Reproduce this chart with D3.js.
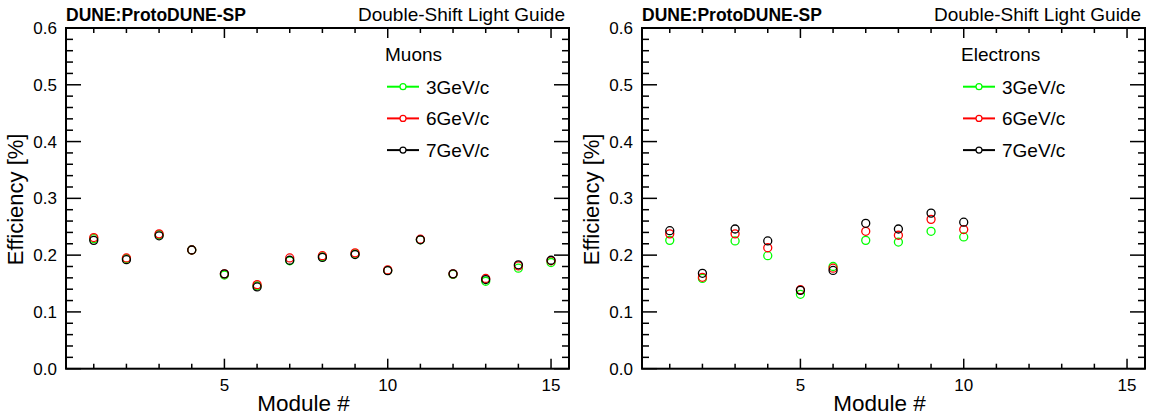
<!DOCTYPE html>
<html>
<head>
<meta charset="utf-8">
<script src="https://cdn.jsdelivr.net/npm/d3@7"></script>
<style>
body { margin: 0; background: #fff; }
text { font-family: "Liberation Sans", Arial, Helvetica, sans-serif; fill: #000; }
</style>
</head>
<body>
<svg id="chart"></svg>
<script>
var width = 1150;
var height = 416;

// Data: efficiency per module
var muonModules = [1, 2, 3, 4, 5, 6, 7, 8, 9, 10, 11, 12, 13, 14, 15];
var muon3 = [0.229, 0.194, 0.236, 0.209, 0.165, 0.146, 0.190, 0.197, 0.202, 0.173, 0.227, 0.166, 0.154, 0.177, 0.187];
var muon6 = [0.231, 0.195, 0.2375, 0.209, 0.167, 0.148, 0.195, 0.199, 0.204, 0.174, 0.228, 0.167, 0.159, 0.181, 0.190];
var muon7 = [0.226, 0.192, 0.234, 0.209, 0.167, 0.144, 0.191, 0.196, 0.201, 0.1726, 0.227, 0.167, 0.157, 0.183, 0.191];

var electronModules = [1, 2, 3, 4, 5, 6, 7, 8, 9, 10];
var electron3 = [0.226, 0.159, 0.225, 0.199, 0.131, 0.180, 0.226, 0.223, 0.242, 0.232];
var electron6 = [0.2375, 0.161, 0.2375, 0.213, 0.139, 0.177, 0.242, 0.235, 0.263, 0.245];
var electron7 = [0.243, 0.168, 0.246, 0.225, 0.138, 0.173, 0.256, 0.246, 0.274, 0.258];

var momenta = ["3GeV/c", "6GeV/c", "7GeV/c"];
var colors = ["#00ff00", "#ff0000", "#000000"];
var yTicks = [0.0, 0.1, 0.2, 0.3, 0.4, 0.5, 0.6];
var xTicks = [5, 10, 15];

var svg = d3.select("#chart")
    .attr("width", width)
    .attr("height", height);

var panels = [
  { left: 66, label: "Muons", modules: muonModules, series: [muon3, muon6, muon7] },
  { left: 642, label: "Electrons", modules: electronModules, series: [electron3, electron6, electron7] }
];

panels.forEach(function(p) {
  var top = 28, bottom = 368.7, right = p.left + 503;

  var x = d3.scaleLinear().domain([0.15, 15.55]).range([p.left, right]);
  var y = d3.scaleLinear().domain([0, 0.6]).range([bottom, top]);

  var g = svg.append("g");

  // Frame
  g.append("rect")
      .attr("x", p.left).attr("y", top)
      .attr("width", right - p.left).attr("height", bottom - top)
      .attr("fill", "none").attr("stroke", "#000").attr("stroke-width", 2);

  // Ticks, both sides like ROOT
  var xMinor = d3.range(1, 16);
  var yMinor = d3.range(0, 0.601, 0.02);
  xMinor.forEach(function(v) {
    var len = (v % 5 == 0) ? 10 : 5;
    g.append("line").attr("x1", x(v)).attr("x2", x(v)).attr("y1", bottom).attr("y2", bottom - len)
        .attr("stroke", "#000").attr("stroke-width", 1.5);
    g.append("line").attr("x1", x(v)).attr("x2", x(v)).attr("y1", top).attr("y2", top + len)
        .attr("stroke", "#000").attr("stroke-width", 1.5);
  });
  yMinor.forEach(function(v, i) {
    var len = (i % 5 == 0) ? 15 : 7;
    g.append("line").attr("x1", p.left).attr("x2", p.left + len).attr("y1", y(v)).attr("y2", y(v))
        .attr("stroke", "#000").attr("stroke-width", 1.5);
    g.append("line").attr("x1", right).attr("x2", right - len).attr("y1", y(v)).attr("y2", y(v))
        .attr("stroke", "#000").attr("stroke-width", 1.5);
  });

  // Tick labels
  g.selectAll(".ylab").data(yTicks).enter().append("text")
      .attr("x", p.left - 9).attr("y", function(d) { return y(d) + 6; })
      .attr("text-anchor", "end").style("font-size", "17px")
      .text(function(d) { return d3.format(".1f")(d); });
  g.selectAll(".xlab").data(xTicks).enter().append("text")
      .attr("x", function(d) { return x(d); }).attr("y", 391)
      .attr("text-anchor", "middle").style("font-size", "17px")
      .text(function(d) { return d; });

  // Axis titles
  g.append("text").text("Module #")
      .attr("x", (p.left + right) / 2 - 14).attr("y", 411)
      .attr("text-anchor", "middle").style("font-size", "22.5px");
  g.append("text").text("Efficiency [%]")
      .attr("transform", "translate(" + (p.left - 43) + "," + ((top + bottom) / 2 + 1) + ") rotate(-90)")
      .attr("text-anchor", "middle").style("font-size", "22px");

  // Headers
  g.append("text").text("DUNE:ProtoDUNE-SP")
      .attr("x", p.left).attr("y", 21)
      .style("font-size", "17.5px").style("font-weight", "bold");
  g.append("text").text("Double-Shift Light Guide")
      .attr("x", right - 4).attr("y", 21)
      .attr("text-anchor", "end").style("font-size", "19px");

  // Points
  p.series.forEach(function(vals, k) {
    g.selectAll(".pt" + k).data(vals).enter().append("circle")
        .attr("cx", function(d, i) { return x(p.modules[i]); })
        .attr("cy", function(d) { return y(d); })
        .attr("r", 4)
        .attr("fill", "none")
        .attr("stroke", colors[k])
        .attr("stroke-width", 1.3);
  });

  // Legend
  var lx = p.left + 321;
  g.append("text").text(p.label)
      .attr("x", lx - 2).attr("y", 61).style("font-size", "19px");
  momenta.forEach(function(m, k) {
    var ly = 86.7 + k * 31.7;
    g.append("line").attr("x1", lx).attr("x2", lx + 32).attr("y1", ly).attr("y2", ly)
        .attr("stroke", colors[k]).attr("stroke-width", 2);
    g.append("circle").attr("cx", lx + 16).attr("cy", ly).attr("r", 3)
        .attr("fill", "#fff").attr("stroke", colors[k]).attr("stroke-width", 1.2);
    g.append("text").text(m)
        .attr("x", lx + 39).attr("y", ly + 7).style("font-size", "19px");
  });
});
</script>
</body>
</html>
